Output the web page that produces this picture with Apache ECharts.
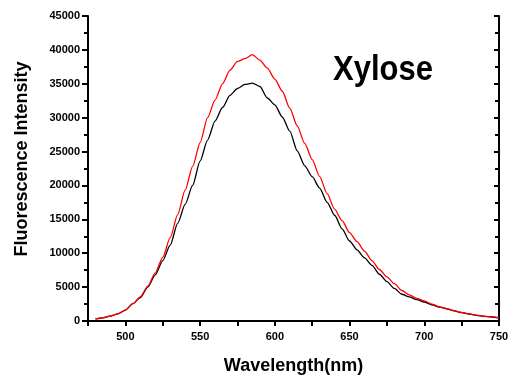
<!DOCTYPE html>
<html>
<head>
<meta charset="utf-8">
<script src="https://cdn.jsdelivr.net/npm/echarts@6/dist/echarts.min.js"></script>
<style>html,body{margin:0;padding:0;background:#fff}#c{width:510px;height:377px}</style>
</head>
<body>
<div id="c"></div>
<script>
var wavelengths = [480,485,490,495,500,505,510,515,520,525,530,535,540,545,550,555,560,565,570,575,580,585,590,595,600,605,610,615,620,625,630,635,640,645,650,655,660,665,670,675,680,685,690,695,700,705,710,715,720,725,730,735,740,745,750];
var blackValues = [300,470,720,1050,1600,2550,3450,5000,6800,8900,11200,14400,17200,20000,23600,26700,29500,31500,33300,34300,34900,35100,34600,32900,31900,30100,28000,25100,22900,21300,19600,17500,15600,13600,11800,10500,9300,8200,6900,5800,4800,3950,3550,3150,2800,2400,2050,1800,1480,1230,1030,840,690,590,470];
var redValues = [300,480,740,1050,1600,2550,3550,5150,7100,9400,12300,15700,19300,22800,26300,30000,32600,35000,37000,38300,38700,39300,38500,37300,35700,33900,31400,28800,26200,23800,21300,18800,16500,14800,13050,11700,10300,8900,7600,6500,5500,4500,3850,3350,2950,2500,2100,1820,1520,1260,1050,860,710,600,490];
var xMin = 475, xMax = 750, xStep = 25, xLabelStep = 50;
var yMin = 0, yMax = 45000, yStep = 5000;
var xTitle = 'Wavelength(nm)';
var yTitle = 'Fluorescence Intensity';
var sampleName = 'Xylose';

function pairs(vals){ return wavelengths.map(function(w,i){ return [w, vals[i]]; }); }
var FONT = "'Liberation Sans', Arial, sans-serif";
var axisLineStyle = {lineStyle:{color:'#000', width:2}};
var chart = echarts.init(document.getElementById('c'));
chart.setOption({
  animation: false,
  backgroundColor: '#fff',
  grid: {left: 88, right: 11, top: 16, bottom: 56, containLabel: false, outerBoundsMode: 'none'},
  xAxis: [{
    type: 'value', min: xMin, max: xMax, interval: xStep, position: 'bottom',
    axisLine: axisLineStyle,
    axisTick: {show: true, inside: false, length: 5, lineStyle:{color:'#000', width:2}},
    splitLine: {show: false},
    axisLabel: {color:'#000', fontFamily: FONT, fontWeight:'bold', fontSize: 11, margin: 10,
      formatter: function(v){ return (v % xLabelStep === 0) ? String(v) : ''; }},
    name: xTitle, nameLocation: 'middle', nameGap: 36,
    nameTextStyle: {color:'#000', fontFamily: FONT, fontWeight:'bold', fontSize: 18}
  },{
    type: 'value', min: xMin, max: xMax, interval: xStep, position: 'top',
    axisLine: axisLineStyle,
    axisTick: {show: true, inside: true, length: 5, lineStyle:{color:'#000', width:2}},
    axisLabel: {show: false}, splitLine: {show: false}
  }],
  yAxis: [{
    type: 'value', min: yMin, max: yMax, interval: yStep, position: 'left',
    axisLine: axisLineStyle,
    axisTick: {show: true, inside: false, length: 6, lineStyle:{color:'#000', width:2}},
    minorTick: {show: true, splitNumber: 2, length: 4, lineStyle:{color:'#000', width:2}},
    splitLine: {show: false}, minorSplitLine: {show:false},
    axisLabel: {color:'#000', fontFamily: FONT, fontWeight:'bold', fontSize: 11, margin: 8,
      formatter: function(v){ return String(v); }}
  },{
    type: 'value', min: yMin, max: yMax, interval: yStep, position: 'right',
    axisLine: axisLineStyle,
    axisTick: {show: true, inside: true, length: 5, lineStyle:{color:'#000', width:2}},
    minorTick: {show: true, splitNumber: 2, length: 4, lineStyle:{color:'#000', width:2}},
    axisLabel: {show: false}, splitLine: {show: false}
  }],
  graphic: [{
    type: 'text', x: 22, y: 159, rotation: Math.PI/2,
    style: {text: yTitle, fill:'#000', font: "bold 18px " + FONT, textAlign:'center', textVerticalAlign:'middle'}
  },{
    type: 'text', x: 383, y: 70, scaleY: 1.12,
    style: {text: sampleName, fill:'#000', font: "bold 31px " + FONT, textAlign:'center', textVerticalAlign:'middle'}
  }],
  series: [{
    type: 'line', data: pairs(blackValues), showSymbol: false, smooth: 0.25, smoothMonotone: 'x',
    lineStyle: {color:'#000', width: 1.3}, z: 2
  },{
    type: 'line', data: pairs(redValues), showSymbol: false, smooth: 0.25, smoothMonotone: 'x',
    lineStyle: {color:'#ff0000', width: 1.3}, z: 3
  }]
});
</script>
</body>
</html>
